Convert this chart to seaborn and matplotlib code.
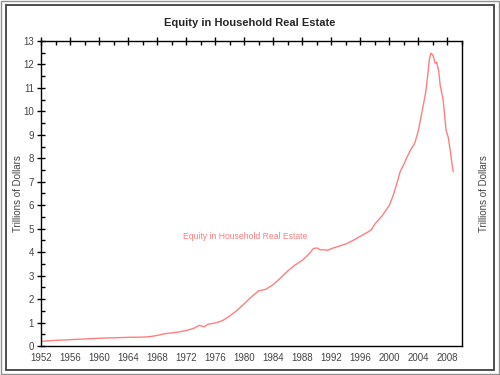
import matplotlib
matplotlib.use("Agg")
import matplotlib.pyplot as plt
from matplotlib.patches import Rectangle
from matplotlib.ticker import MultipleLocator
import seaborn as sns
import pandas as pd

years = [1952, 1954, 1956, 1958, 1960, 1962, 1964, 1966, 1967, 1968, 1969, 1970,
         1971, 1972, 1973, 1973.8, 1974.5, 1975, 1975.5, 1976, 1977, 1978, 1979,
         1980, 1981, 1982, 1983, 1983.5, 1984, 1985, 1986, 1987, 1988, 1989,
         1989.5, 1990, 1990.5, 1991, 1991.5, 1992, 1993, 1994, 1995, 1996, 1997,
         1997.5, 1998, 1999, 2000, 2000.5, 2001, 2001.5, 2002, 2002.5, 2003,
         2003.5, 2004, 2004.5, 2005, 2005.3, 2005.5, 2005.7, 2006, 2006.3,
         2006.5, 2006.8, 2007, 2007.4, 2007.8, 2008.1, 2008.4, 2008.6, 2008.8]
equity = [0.20, 0.24, 0.27, 0.30, 0.33, 0.35, 0.37, 0.38, 0.40, 0.45, 0.52, 0.56,
          0.60, 0.66, 0.75, 0.88, 0.82, 0.93, 0.95, 0.98, 1.08, 1.28, 1.52,
          1.80, 2.10, 2.35, 2.42, 2.52, 2.62, 2.90, 3.20, 3.45, 3.65, 3.95,
          4.15, 4.18, 4.10, 4.10, 4.08, 4.15, 4.25, 4.35, 4.50, 4.68, 4.85,
          4.95, 5.20, 5.55, 6.00, 6.40, 6.90, 7.45, 7.75, 8.10, 8.40,
          8.65, 9.20, 10.00, 10.80, 11.60, 12.20, 12.48, 12.40, 12.05,
          12.10, 11.70, 11.10, 10.50, 9.20, 8.90, 8.30, 7.80, 7.43]

title = "Equity in Household Real Estate"
ylabel = "Trillions of Dollars"
series_label = "Equity in Household Real Estate"
xticks = list(range(1952, 2009, 4))
yticks = list(range(0, 14))

df = pd.DataFrame({"year": years, "equity": equity})

sns.set_style("white")
plt.rcParams["font.family"] = ["Liberation Sans", "DejaVu Sans"]

fig = plt.figure(figsize=(5, 3.75), dpi=100)
# outer frames
fig.patches.append(Rectangle((0.001, 0.0015), 0.997, 0.996, transform=fig.transFigure,
                             fill=False, edgecolor="#909090", linewidth=1.0))
fig.patches.append(Rectangle((0.011, 0.0135), 0.976, 0.9735, transform=fig.transFigure,
                             fill=False, edgecolor="#404040", linewidth=1.3))

ax = fig.add_axes([0.082, 0.0773, 0.842, 0.8134])
line_color = "#ff7f7f"
sns.lineplot(data=df, x="year", y="equity", ax=ax, color=line_color, linewidth=1.0)

ax.set_xlim(1952, 2010)
ax.set_ylim(0, 13)
ax.set_xticks(xticks)
ax.set_yticks(yticks)
ax.xaxis.set_minor_locator(MultipleLocator(2))
ax.yaxis.set_minor_locator(MultipleLocator(0.5))
ax.tick_params(which="major", direction="inout", length=6, width=1, color="black",
               labelsize=7, labelcolor="#444444", top=True, right=True,
               labelright=True, pad=2)
ax.tick_params(which="minor", direction="in", length=3, width=1, color="black",
               top=True, right=True)
for s in ax.spines.values():
    s.set_color("black")
    s.set_linewidth(1.0)
ax.set_xlabel("")
ax.set_ylabel(ylabel, fontsize=7, color="#444444", labelpad=0)
ax2 = ax.twinx()
ax2.set_ylim(0, 13)
ax2.set_yticks([])
ax2.set_ylabel(ylabel, fontsize=7, color="#444444", rotation=90, labelpad=12)
ax2.yaxis.set_label_position("right")
for s in ax2.spines.values():
    s.set_visible(False)

ax.text(1980.1, 4.65, series_label, color=line_color, fontsize=6.2, ha="center", va="center")
fig.text(0.5, 0.94, title, ha="center", va="center", fontsize=8, fontweight="bold")

fig.savefig("out.png", dpi=100)
